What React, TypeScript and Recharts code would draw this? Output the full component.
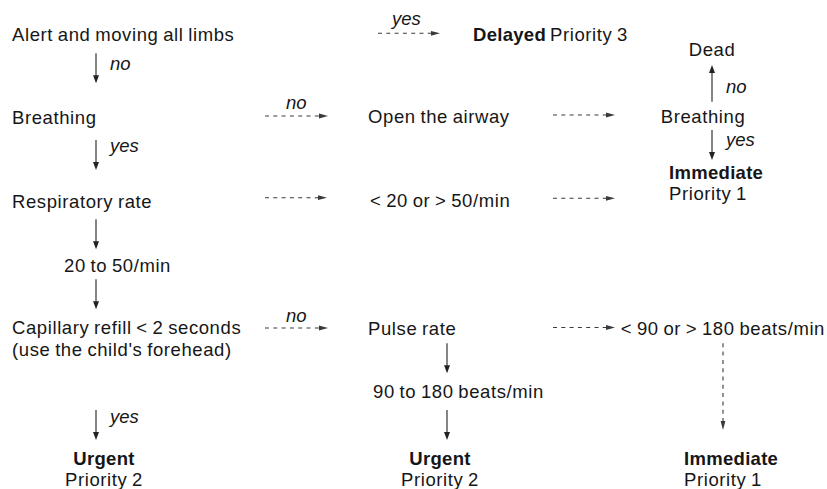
import React from 'react'
import { ScatterChart, Scatter, XAxis, YAxis, ReferenceLine } from 'recharts'

// triage flowchart laid out on a 827 x 489 grid (x right, y down)
const nodeText = [
  'Alert and moving all limbs', 'no', 'yes', 'Delayed', 'Priority 3',
  'Dead', 'no', 'Breathing', 'no', 'Open the airway', 'Breathing',
  'yes', 'yes', 'Immediate', 'Priority 1',
  'Respiratory rate', '< 20 or > 50/min', '20 to 50/min',
  'Capillary refill < 2 seconds', "(use the child's forehead)", 'no',
  'Pulse rate', '< 90 or > 180 beats/min', '90 to 180 beats/min', 'yes',
  'Urgent', 'Priority 2', 'Urgent', 'Priority 2', 'Immediate', 'Priority 1',
]
const nodeX = [
  12, 110, 392, 473, 550,
  712, 726, 12, 286, 368, 703,
  110, 726, 669, 669,
  12, 370, 64,
  12, 12, 286,
  368, 825, 373, 110,
  104, 104, 440, 440, 684, 684,
]
const nodeY = [
  40.7, 70, 24.5, 40.5, 40.5,
  55.7, 93.3, 123.5, 109, 122.5, 122.5,
  152, 145.5, 179, 200.3,
  207.5, 207.3, 272.3,
  334, 356, 321.5,
  334.5, 334.5, 398.3, 423.3,
  464.5, 485.5, 464.5, 485.5, 464.5, 485.5,
]
// step | answer | outcome | priority
const nodeKind = [
  'step', 'answer', 'answer', 'outcome', 'priority',
  'step', 'answer', 'step', 'answer', 'step', 'step',
  'answer', 'answer', 'outcome', 'priority',
  'step', 'step', 'step',
  'step', 'step', 'answer',
  'step', 'step', 'step', 'answer',
  'outcome', 'priority', 'outcome', 'priority', 'outcome', 'priority',
]
const nodeAlign = [
  'start', 'start', 'start', 'start', 'start',
  'middle', 'start', 'start', 'start', 'start', 'middle',
  'start', 'start', 'start', 'start',
  'start', 'start', 'start',
  'start', 'start', 'start',
  'start', 'end', 'start', 'start',
  'middle', 'middle', 'middle', 'middle', 'start', 'start',
]

// arrows: flow = solid, branch = dashed
const edgeX1 = [96, 96, 96, 96, 96, 712, 712, 447, 447, 378, 265, 553, 265, 553, 265, 553, 723]
const edgeY1 = [53.3, 140, 219.3, 279.3, 410, 101.7, 130, 343.3, 410, 33.3, 116, 115, 197.7, 198.3, 328, 327.5, 343.3]
const edgeX2 = [96, 96, 96, 96, 96, 712, 712, 447, 447, 440, 328, 615, 327, 615, 328, 615, 723]
const edgeY2 = [83.3, 170, 249.3, 309.3, 440, 65, 160, 373.3, 440, 33.3, 116, 115, 197.7, 198.3, 328, 327.5, 430]
const edgeKind = [
  'flow', 'flow', 'flow', 'flow', 'flow', 'flow', 'flow', 'flow', 'flow',
  'branch', 'branch', 'branch', 'branch', 'branch', 'branch', 'branch', 'branch',
]

const nodes = nodeText.map((text, i) => ({
  x: nodeX[i],
  y: nodeY[i],
  text,
  kind: nodeKind[i],
  align: nodeAlign[i],
}))

const FONT = '"Liberation Sans", Arial, sans-serif'
const INK = '#161616'

const KIND_STYLE: Record<string, any> = {
  step: { fontWeight: 400, fontStyle: 'normal', letterSpacing: 0.6, wordSpacing: -1 },
  priority: { fontWeight: 400, fontStyle: 'normal', letterSpacing: 0.6, wordSpacing: -1 },
  outcome: { fontWeight: 700, fontStyle: 'normal', letterSpacing: 0.3, wordSpacing: 0 },
  answer: { fontWeight: 400, fontStyle: 'italic', letterSpacing: 0, wordSpacing: 0 },
}

function NodeLabel(props: any) {
  const { cx, cy, payload } = props
  const s = KIND_STYLE[payload.kind]
  return (
    <text
      x={cx}
      y={cy}
      textAnchor={payload.align}
      fontFamily={FONT}
      fontSize={18.5}
      fontWeight={s.fontWeight}
      fontStyle={s.fontStyle}
      letterSpacing={s.letterSpacing}
      wordSpacing={s.wordSpacing}
      fill={INK}
    >
      {payload.text}
    </text>
  )
}

function Arrow(props: any) {
  const { x1, y1, x2, y2, dashed } = props
  const len = Math.hypot(x2 - x1, y2 - y1) || 1
  const ux = (x2 - x1) / len
  const uy = (y2 - y1) / len
  const head = dashed ? 9 : 8
  const half = dashed ? 2.4 : 3
  const bx = x2 - ux * head
  const by = y2 - uy * head
  const color = dashed ? '#3a3a3a' : '#222'
  return (
    <g>
      <line
        x1={x1}
        y1={y1}
        x2={bx + ux}
        y2={by + uy}
        stroke={color}
        strokeWidth={1.1}
        strokeDasharray={dashed ? '4 4.3' : undefined}
      />
      <polygon
        points={`${x2},${y2} ${bx - uy * half},${by + ux * half} ${bx + uy * half},${by - ux * half}`}
        fill={color}
      />
    </g>
  )
}

export default function App() {
  return (
    <div style={{ position: 'absolute', left: 0, top: 0, width: 827, height: 489, background: '#fff' }}>
      <ScatterChart width={827} height={489} margin={{ top: 0, right: 0, bottom: 0, left: 0 }}>
        <XAxis type="number" dataKey="x" domain={[0, 827]} hide />
        <YAxis type="number" dataKey="y" domain={[0, 489]} reversed hide />
        {edgeX1.map((_, i) => (
          <ReferenceLine
            key={`edge-${i}`}
            segment={[
              { x: edgeX1[i], y: edgeY1[i] },
              { x: edgeX2[i], y: edgeY2[i] },
            ]}
            ifOverflow="visible"
            shape={(p: any) => <Arrow {...p} dashed={edgeKind[i] === 'branch'} />}
          />
        ))}
        <Scatter data={nodes} shape={NodeLabel} isAnimationActive={false} />
      </ScatterChart>
    </div>
  )
}
